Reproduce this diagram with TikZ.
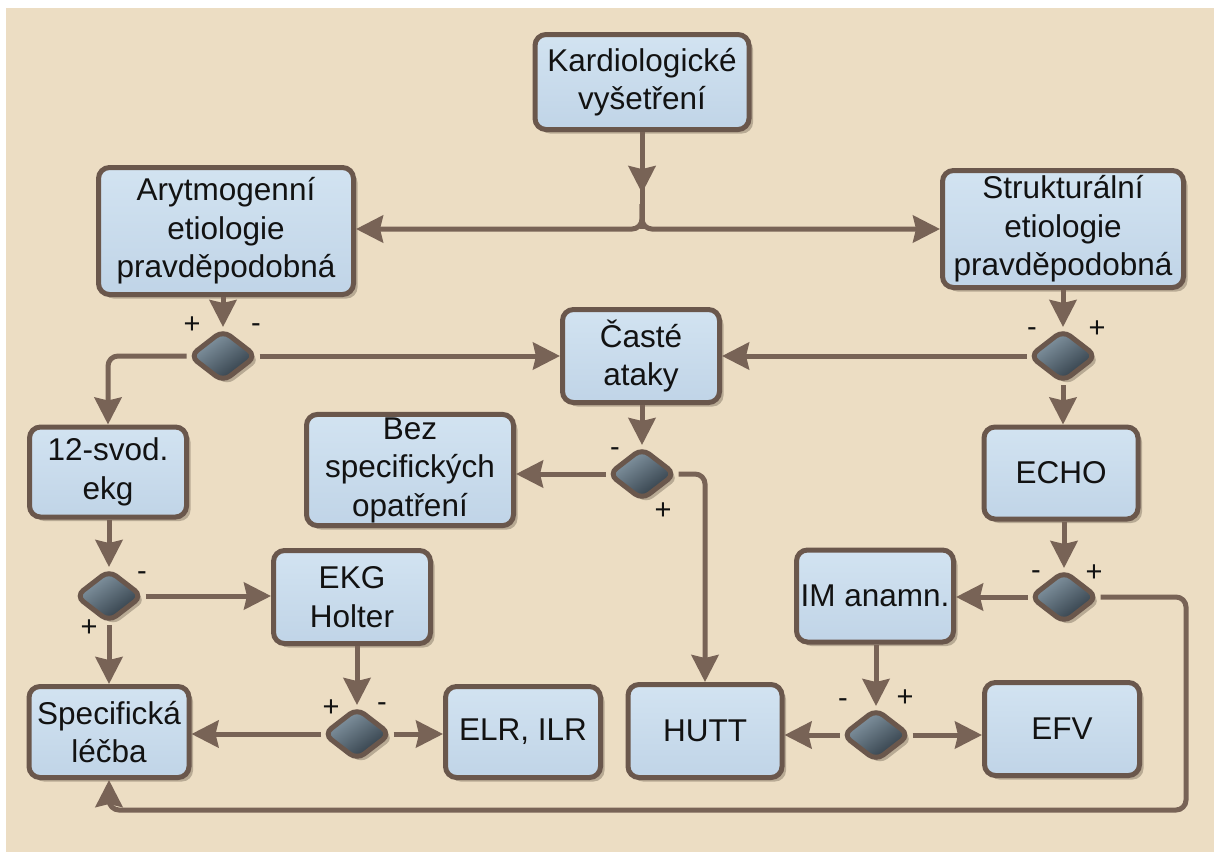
\documentclass[tikz,border=0pt]{standalone}
\usepackage{fontspec}
\setmainfont{Liberation Sans}
\usetikzlibrary{arrows.meta,shapes.geometric,shadows,decorations.markings,calc}

\definecolor{paper}{HTML}{ECDDC3}
\definecolor{boxtop}{HTML}{D2E3F1}
\definecolor{boxbot}{HTML}{C0D4E7}
\definecolor{edge}{HTML}{6A574C}
\definecolor{wire}{HTML}{786356}
\definecolor{gemA}{HTML}{8C9FAC}
\definecolor{gemB}{HTML}{2A3640}
\definecolor{shadowtan}{HTML}{B8AA94}
\definecolor{ink}{HTML}{121212}

\tikzset{
  box/.style={draw=edge, line width=5pt, rounded corners=11pt,
    top color=boxtop, bottom color=boxbot, align=center, inner sep=3pt,
    font=\fontsize{31.5}{38.5}\selectfont, text=ink,
    drop shadow={shadow xshift=4pt, shadow yshift=-4pt, fill=shadowtan, opacity=1}},
  gate/.style={diamond, draw=edge, line width=5pt, rounded corners=9pt,
    minimum width=68pt, minimum height=53pt, inner sep=0pt,
    top color=gemA, bottom color=gemB, shading angle=35,
    drop shadow={shadow xshift=4pt, shadow yshift=-4pt, fill=shadowtan, opacity=1}},
  wireline/.style={draw=wire, line width=5pt, rounded corners=10pt},
  tip/.tip={Stealth[length=27pt,width=27pt,inset=3pt]},
  conn/.style={wireline, -tip},
  midarrow/.style={postaction={decorate}, decoration={markings,
    mark=at position 0.63 with {\arrow[wire]{tip}}}},
  sign/.style={font=\fontsize{29}{29}\selectfont, text=ink, inner sep=0pt},
}

\begin{document}
\begin{tikzpicture}[x=1pt,y=-1pt]
  % page and paper
  \useasboundingbox (0,0) rectangle (1214,852);
  \fill[white] (0,0) rectangle (1214,852);
  \fill[paper] (6,8) rectangle (1214,852);

  % boxes
  \node[box, minimum width=214pt, minimum height=95pt]  (kard)   at (642,82)   {Kardiologické\\vyšetření};
  \node[box, minimum width=255pt, minimum height=127pt] (aryt)   at (226,231)  {Arytmogenní\\etiologie\\pravděpodobná};
  \node[box, minimum width=241pt, minimum height=117pt] (strukt) at (1063,229) {Strukturální\\etiologie\\pravděpodobná};
  \node[box, minimum width=157pt, minimum height=93pt]  (caste)  at (641,356)  {Časté\\ataky};
  \node[box, minimum width=157pt, minimum height=90pt]  (ekg)    at (108,472)  {12-svod.\\ekg};
  \node[box, minimum width=207pt, minimum height=111pt] (bez)    at (410,470)  {Bez\\specifických\\opatření};
  \node[box, minimum width=154pt, minimum height=92pt]  (echo)   at (1061,473) {ECHO};
  \node[box, minimum width=157pt, minimum height=93pt]  (holter) at (352,597)  {EKG\\Holter};
  \node[box, minimum width=157pt, minimum height=92pt]  (im)     at (875,596)  {IM anamn.};
  \node[box, minimum width=160pt, minimum height=91pt]  (spec)   at (109,732)  {Specifická\\léčba};
  \node[box, minimum width=155pt, minimum height=91pt]  (elr)    at (523,732)  {ELR, ILR};
  \node[box, minimum width=154pt, minimum height=93pt]  (hutt)   at (705,731)  {HUTT};
  \node[box, minimum width=155pt, minimum height=93pt]  (efv)    at (1062,729) {EFV};

  % decision gates
  \node[gate] (d1) at (223,356)  {};
  \node[gate] (d2) at (1063,356) {};
  \node[gate] (d6) at (642,474)  {};
  \node[gate] (d3) at (109,596)  {};
  \node[gate] (d4) at (357,734)  {};
  \node[gate] (d5) at (876,735)  {};
  \node[gate] (d7) at (1064,597) {};

  % branch from the cardiology exam
  \coordinate (split) at (642,229);
  \draw[wireline, rounded corners=0pt, midarrow] (kard.south) -- (split);
  \draw[conn] ($(split)+(0,-25)$) -- (split) -- (split -| aryt.east);
  \draw[conn] ($(split)+(0,-25)$) -- (split) -- (split -| strukt.west);

  % arrhythmogenic branch
  \draw[conn] (aryt.south -| d1.north) -- (d1.north);
  \draw[conn] (d1.east) -- (d1.east -| caste.west);
  \draw[conn] (d1.west) -| (ekg.north);
  \draw[conn] (ekg.south -| d3.north) -- (d3.north);
  \draw[conn] (d3.east) -- (d3.east -| holter.west);
  \draw[conn] (d3.south) -- (d3.south |- spec.north);
  \draw[conn] (holter.south -| d4.north) -- (d4.north);
  \draw[conn] (d4.west) -- (d4.west -| spec.east);
  \draw[conn] (d4.east) -- (d4.east -| elr.west);

  % structural branch
  \draw[conn] (strukt.south -| d2.north) -- (d2.north);
  \draw[conn] (d2.west) -- (d2.west -| caste.east);
  \draw[conn] (d2.south) -- (d2.south |- echo.north);
  \draw[conn] (echo.south -| d7.north) -- (d7.north);
  \draw[conn] (d7.west) -- (d7.west -| im.east);
  \draw[conn] (im.south -| d5.north) -- (d5.north);
  \draw[conn] (d5.west) -- (d5.west -| hutt.east);
  \draw[conn] (d5.east) -- (d5.east -| efv.west);
  \coordinate (loop) at (1186,810);
  \draw[conn] (d7.east) -| (loop) -| (spec.south);

  % frequent attacks
  \draw[conn] (caste.south -| d6.north) -- (d6.north);
  \draw[conn] (d6.west) -- (d6.west -| bez.east);
  \draw[conn] (d6.east) -| (hutt.north);

  % outcome signs
  \node[sign] (s1p) at (192,325) {+};
  \node[sign] (s1m) at (256,328) {-};
  \node[sign] (s2m) at (1032,332) {-};
  \node[sign] (s2p) at (1097,329) {+};
  \node[sign] (s6m) at (615,452) {-};
  \node[sign] (s6p) at (663,511) {+};
  \node[sign] (s3m) at (142,576) {-};
  \node[sign] (s3p) at (89,628)  {+};
  \node[sign] (s4p) at (331,708) {+};
  \node[sign] (s4m) at (382,707) {-};
  \node[sign] (s7m) at (1036,575) {-};
  \node[sign] (s7p) at (1094,573) {+};
  \node[sign] (s5m) at (843,703) {-};
  \node[sign] (s5p) at (905,698) {+};
\end{tikzpicture}
\end{document}
